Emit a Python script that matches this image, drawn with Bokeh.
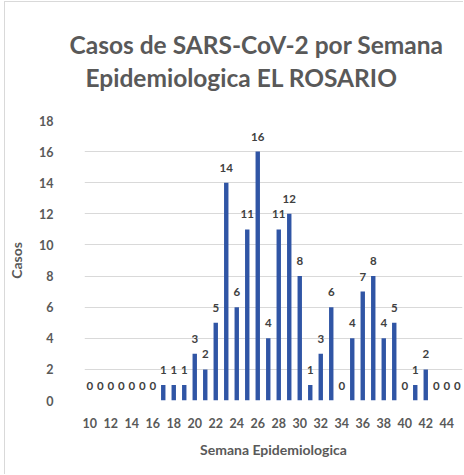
from bokeh.plotting import figure
from bokeh.models import ColumnDataSource, FixedTicker, Range1d, Title
from bokeh.core.properties import value
from bokeh.embed import file_html
from bokeh.resources import INLINE

# Weekly SARS-CoV-2 cases, epidemiological weeks 10-45
weeks = list(range(10, 46))
cases = [0, 0, 0, 0, 0, 0, 0,
         1, 1, 1, 3, 2, 5, 14, 6, 11, 16, 4, 11, 12, 8,
         1, 3, 6, 0, 4, 7, 8, 4, 5, 0, 1, 2, 0, 0, 0]
x_ticks = list(range(10, 45, 2))
y_ticks = list(range(0, 19, 2))

title_lines = ["Casos de SARS-CoV-2 por Semana", "Epidemiologica EL ROSARIO"]
FONT = "Lato"
GRAY = "#595959"

src = ColumnDataSource(dict(week=weeks, cases=cases, label=[str(c) for c in cases]))

p = figure(width=459, height=473, output_backend="svg", toolbar_location=None,
           x_range=Range1d(9.5, 45.5), y_range=Range1d(0, 18),
           min_border_left=66, min_border_right=2, min_border_top=118, min_border_bottom=75)
p.outline_line_color = None
p.background_fill_color = "white"
p.border_fill_color = "white"
# light chart border on the top and left edges
p.margin = (1, 0, 0, 4)
p.styles = {"border-top": "1px solid #D9D9D9", "border-left": "1px solid #D9D9D9"}

p.vbar(x="week", top="cases", width=0.42, source=src,
       fill_color="#3055A5", line_color=None)
p.text(x="week", y="cases", text="label", source=src, text_align="center",
       text_baseline="bottom", y_offset=-11, text_font=value(FONT),
       text_font_style="bold", text_font_size="11.5px", text_color="#404040")

p.xgrid.visible = False
p.ygrid.grid_line_color = "#D9D9D9"
p.ygrid.grid_line_width = 1
p.ygrid.ticker = FixedTicker(ticks=y_ticks)

for ax in (p.xaxis[0], p.yaxis[0]):
    ax.axis_line_color = None
    ax.major_tick_line_color = None
    ax.minor_tick_line_color = None
    ax.major_label_text_font = FONT
    ax.major_label_text_font_style = "bold"
    ax.major_label_text_font_size = "12.5px"
    ax.major_label_text_color = GRAY
    ax.axis_label_text_font = FONT
    ax.axis_label_text_font_style = "bold"
    ax.axis_label_text_font_size = "14px"
    ax.axis_label_text_color = GRAY

p.xaxis.ticker = FixedTicker(ticks=x_ticks)
p.xaxis.major_label_standoff = 11
p.xaxis.axis_label = "Semana Epidemiologica"
p.xaxis.axis_label_standoff = 10

p.yaxis.ticker = FixedTicker(ticks=y_ticks)
p.yaxis.major_label_standoff = 25
p.yaxis.axis_label = "Casos"
p.yaxis.axis_label_standoff = 11

# Gap between the title block and the plot area
p.add_layout(Title(text=" ", text_font_size="1px", standoff=26), "above")

# Two-line chart title, left-anchored so it sits centred over the whole chart
title_offsets = [-15, 1]
title_standoffs = [4, 0]
for line, off, so in reversed(list(zip(title_lines, title_offsets, title_standoffs))):
    p.add_layout(Title(text=line, align="left", text_font=FONT,
                       text_font_style="bold", text_font_size="24.5px",
                       text_color=GRAY, standoff=so, offset=off), "above")

open("out.html", "w").write(file_html(p, INLINE))
